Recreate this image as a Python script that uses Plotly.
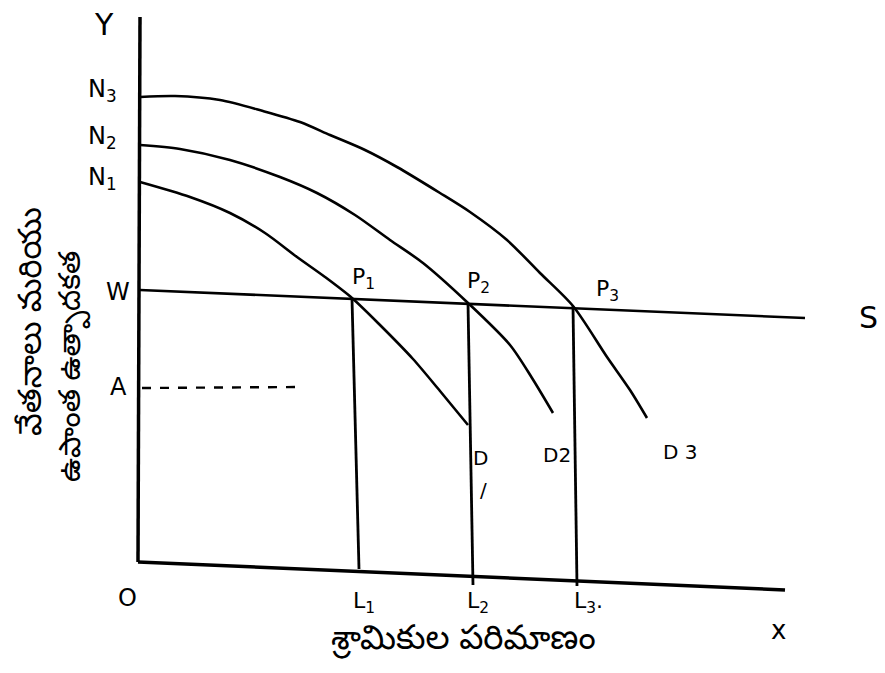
import plotly.graph_objects as go

# Data (quantity of labour, wage/marginal product units)
d1_x = [2, 52, 92, 127, 159, 187, 214, 242, 275, 302, 330]
d1_y = [380, 365, 349, 329, 305, 285, 264, 237, 203, 171, 137]

d2_x = [2, 42, 92, 142, 179, 217, 252, 285, 330, 372, 394, 415]
d2_y = [417, 413, 402, 385, 369, 347, 322, 299, 259, 217, 184, 149]

d3_x = [2, 37, 82, 125, 162, 192, 227, 259, 302, 332, 369, 402, 435, 469, 492, 509]
d3_y = [465, 466, 462, 451, 440, 427, 412, 395, 369, 350, 322, 289, 256, 205, 172, 144]

s_x = [2, 667]
s_y = [272, 244]

# equilibrium points P1, P2, P3 and employment levels L1, L2, L3
p_x = [214, 330, 435]
p_y = [263, 259, 256]
l_x = [221, 335, 439]
l_y = [-7, -23, -24]

a_x = [4, 162]
a_y = [174, 175]

yaxis_x = [2, 0]
yaxis_y = [545, 0]
xaxis_x = [0, 647]
xaxis_y = [0, -28]

y_tick_labels = ["N<sub>3</sub>", "N<sub>2</sub>", "N<sub>1</sub>", "W", "A"]
y_tick_vals = [472, 425, 384, 270, 175]
l_labels = ["L<sub>1</sub>", "L<sub>2</sub>", "L<sub>3</sub>."]
p_labels = ["P<sub>1</sub>", "P<sub>2</sub>", "P<sub>3</sub>"]

x_title = "శ్రామికుల పరిమాణం"
y_title_1 = "వేతనాలు మరియు"
y_title_2 = "ఉపాంత ఉత్పాదకత"

fig = go.Figure()

def add(x, y, w=2.6, dash=None):
    fig.add_trace(go.Scatter(x=x, y=y, mode="lines", hoverinfo="skip",
                             line=dict(color="black", width=w, shape="spline",
                                       smoothing=0.8, dash=dash)))

add(yaxis_x, yaxis_y, 3.5)
add(xaxis_x, xaxis_y, 3.5)
add(d1_x, d1_y)
add(d2_x, d2_y)
add(d3_x, d3_y)
add(s_x, s_y)
for i in range(3):
    add([p_x[i], l_x[i]], [p_y[i], l_y[i]], 2.8)
add(a_x, a_y, 2.4, "dash")

font = dict(family="DejaVu Sans, sans-serif", color="black", size=22)
tfont = dict(family="Noto Sans Telugu, Noto Sans, sans-serif", color="black", size=28)

ann = []
def txt(x, y, t, size=22, f=None, angle=0):
    ff = dict(f or font)
    ff["size"] = size
    ann.append(dict(x=x, y=y, xref="x", yref="y", text=t, showarrow=False,
                    font=ff, textangle=angle, xanchor="center", yanchor="middle"))

txt(-34, 538, "Y", 30)
for t, v in zip(y_tick_labels, y_tick_vals):
    txt(-36 if t not in ("W", "A") else -20, v, t, 24)
txt(-11, -36, "O", 24)
for i in range(3):
    txt(l_x[i] + 5 + (6 if i == 2 else 0), -40, l_labels[i], 22)
txt(p_x[0] + 11, p_y[0] + 21, p_labels[0], 22)
txt(p_x[1] + 10, p_y[1] + 21, p_labels[1], 22)
txt(p_x[2] + 34, p_y[2] + 16, p_labels[2], 22)
txt(730, 245, "S", 30)
txt(342, 104, "D", 20)
txt(345, 72, "/", 20)
txt(419, 107, "D2", 20)
txt(542, 110, "D 3", 20)
txt(640, -68, "x", 26)
txt(325, -80, x_title, 34, tfont)
txt(-104, 240, y_title_1, 32, tfont, -90)
txt(-64, 195, y_title_2, 30, tfont, -90)

# the page body has an 8px default margin, so the figure is 8px smaller
fig.update_layout(
    width=877, height=665, margin=dict(l=0, r=0, t=0, b=0),
    paper_bgcolor="white", plot_bgcolor="white", showlegend=False,
    xaxis=dict(range=[-130, 747], visible=False, fixedrange=True),
    yaxis=dict(range=[-111, 554], visible=False, fixedrange=True),
    annotations=ann,
)
fig.write_html("out.html")
